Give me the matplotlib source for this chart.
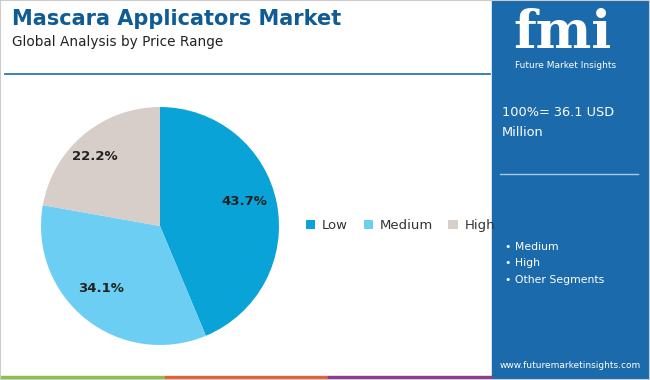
import matplotlib
matplotlib.use('Agg')
import matplotlib.pyplot as plt
from matplotlib.patches import Rectangle
import numpy as np

W, H = 650, 380

title = 'Mascara Applicators Market'
subtitle = 'Global Analysis by Price Range'
segments = ['Low', 'Medium', 'High']
shares = [43.7, 34.1, 22.2]
colors = ['#0aa3d8', '#6dcef4', '#d7cdc9']
total_text = '100%= 36.1 USD\nMillion'
side_items = ['Medium', 'High', 'Other Segments']
url = 'www.futuremarketinsights.com'

plt.rcParams['font.family'] = ['DejaVu Sans']

fig = plt.figure(figsize=(W / 100, H / 100), dpi=100)
fig.patch.set_facecolor('white')


def fx(x):
    return x / W


def fy(y):
    return 1 - y / H


# right side panel
fig.patches.append(Rectangle((fx(492), 0), fx(W - 492), 1, transform=fig.transFigure,
                             color='#1b6aab', zorder=0))
# bottom colour strip
for x0, x1, c in [(0, 165, '#8cc04b'), (165, 328, '#e0623a'), (328, 492, '#8e3c8f')]:
    fig.patches.append(Rectangle((fx(x0), 0), fx(x1 - x0), 4 / H, transform=fig.transFigure,
                                 color=c, zorder=1))
# line under the heading
fig.lines.append(plt.Line2D([fx(5), fx(490)], [fy(74), fy(74)], transform=fig.transFigure,
                            color='#2a78b5', lw=1.3))

fig.text(fx(12), fy(19), title, fontsize=15, fontweight='bold', color='#0e5b96', va='center')
fig.text(fx(12), fy(42), subtitle, fontsize=9.8, color='#222222', va='center')

# pie
ax = fig.add_axes([fx(41), fy(345), fx(238), 238 / H])
wedges, _ = ax.pie(shares, colors=colors, startangle=90, counterclock=False,
                   wedgeprops=dict(linewidth=0))
ax.set_xlim(-1, 1)
ax.set_ylim(-1, 1)
ax.set_aspect('equal')
label_r = [0.75, 0.75, 0.8]
label_dy = [0.06, 0.06, -0.025]
for w, s, r, dy in zip(wedges, shares, label_r, label_dy):
    ang = np.deg2rad((w.theta1 + w.theta2) / 2)
    ax.text(r * np.cos(ang) - 0.03, r * np.sin(ang) + dy, f'{s}%', ha='center',
            va='center', fontsize=9.5, fontweight='bold', color='#222222')

fig.legend(wedges, segments, loc='center left', bbox_to_anchor=(fx(294), fy(226)),
           ncol=3, frameon=False, fontsize=9.5, handlelength=0.7, handleheight=0.7,
           handletextpad=0.5, columnspacing=1.2, labelcolor='#333333')

# right panel contents
fig.text(fx(563), fy(33), 'fmi', fontsize=38, fontweight='bold', family='DejaVu Serif',
         color='white', ha='center', va='center')
fig.text(fx(566), fy(66), 'Future Market Insights', fontsize=6.5, color='white',
         ha='center', va='center')
fig.text(fx(502), fy(123), total_text, fontsize=9.3, color='white', va='center',
         linespacing=1.7)
fig.lines.append(plt.Line2D([fx(500), fx(638)], [fy(174), fy(174)], transform=fig.transFigure,
                            color='#a9c8e2', lw=1))
for i, item in enumerate(side_items):
    fig.text(fx(505), fy(247 + i * 16.5), '\u2022 ' + item, fontsize=7.8, color='white',
             va='center')
fig.text(fx(570), fy(365), url, fontsize=6.5, color='white', ha='center', va='center')

# outer border
fig.patches.append(Rectangle((0, 0), 1, 1, transform=fig.transFigure, fill=False,
                             edgecolor='#cccccc', lw=1.5, zorder=5))

fig.savefig('out.png', dpi=100)
